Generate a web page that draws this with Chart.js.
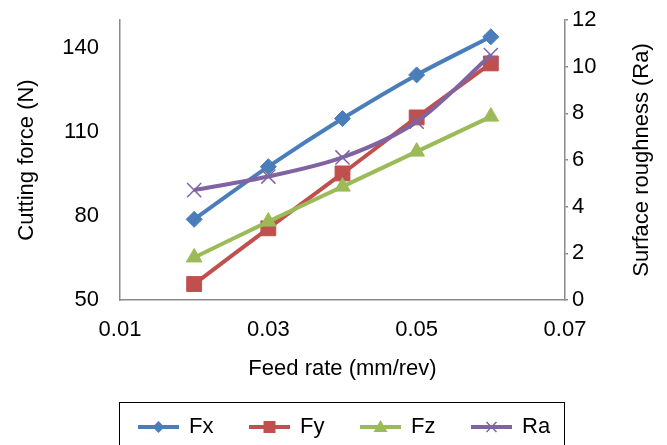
<!DOCTYPE html>
<html>
<head>
<meta charset="utf-8">
<script src="https://cdn.jsdelivr.net/npm/chart.js@4.4.0/dist/chart.umd.min.js"></script>
<style>
  html, body { margin: 0; padding: 0; background: #fff; }
  #wrap { width: 667px; height: 445px; position: relative; }
</style>
</head>
<body>
<div id="wrap"><canvas id="chart"></canvas></div>
<script>
// values
const feedRate = [0.02, 0.03, 0.04, 0.05, 0.06];
const fx = [78.8, 97.6, 114.8, 130.4, 144.0];
const fy = [55.7, 75.6, 95.2, 115.2, 134.5];
const fz = [65.2, 78.0, 90.5, 103.0, 115.5];
const ra = [4.71, 5.29, 6.11, 7.64, 10.5];

const xTicks = [0.01, 0.03, 0.05, 0.07];
const forceTicks = [50, 80, 110, 140];
const raTicks = [0, 2, 4, 6, 8, 10, 12];

const FONT = "'Liberation Sans', Arial, Helvetica, sans-serif";
const axisGray = '#8a8a8a';

function pts(ys) {
  return feedRate.map((x, i) => ({ x: x, y: ys[i] }));
}

function series(label, ys, color, style, radius, axis, order) {
  return {
    label: label,
    data: pts(ys),
    borderColor: color,
    backgroundColor: color,
    pointBackgroundColor: color,
    pointBorderColor: color,
    pointStyle: style,
    pointRadius: radius,
    pointHoverRadius: radius,
    pointBorderWidth: style === 'crossRot' ? 1.5 : 1,
    borderWidth: 4,
    tension: 0.3,
    yAxisID: axis,
    order: order,
  };
}

// fixed axis boxes so the plot sits where the reference has it
function fitY(width) {
  return (s) => {
    s.width = width;
    s.paddingTop = 0;
    s.paddingBottom = 0;
  };
}

// legend drawn by hand: line with marker in the middle, inside a framed box
// plus the right axis title, which reads bottom-to-top like the left one
const boxLegend = {
  id: 'boxLegend',
  afterDraw(chart) {
    const ctx = chart.ctx;
    const area = chart.chartArea;
    ctx.save();
    ctx.font = '22px ' + FONT;
    ctx.fillStyle = '#000';
    ctx.textAlign = 'center';
    ctx.textBaseline = 'middle';
    ctx.translate(642, (area.top + area.bottom) / 2);
    ctx.rotate(-Math.PI / 2);
    ctx.fillText('Surface roughness (Ra)', 0, 0);
    ctx.restore();

    ctx.save();
    ctx.strokeStyle = '#000';
    ctx.lineWidth = 1;
    ctx.strokeRect(area.left - 0.5, 402.5, area.right - area.left, 60);
    ctx.font = '22px ' + FONT;
    ctx.textBaseline = 'middle';
    ctx.fillStyle = '#000';
    const y = 427;
    let sx = area.left + 18;
    for (const ds of chart.data.datasets) {
      ctx.strokeStyle = ds.borderColor;
      ctx.lineWidth = 4;
      ctx.beginPath();
      ctx.moveTo(sx, y);
      ctx.lineTo(sx + 41, y);
      ctx.stroke();
      const cx = sx + 20.5;
      ctx.fillStyle = ds.borderColor;
      ctx.strokeStyle = ds.borderColor;
      ctx.lineWidth = 1.5;
      ctx.beginPath();
      if (ds.pointStyle === 'rectRot') {
        ctx.moveTo(cx, y - 6); ctx.lineTo(cx + 6, y); ctx.lineTo(cx, y + 6); ctx.lineTo(cx - 6, y);
        ctx.closePath(); ctx.fill();
      } else if (ds.pointStyle === 'rect') {
        ctx.rect(cx - 6, y - 6, 12, 12); ctx.fill();
      } else if (ds.pointStyle === 'triangle') {
        ctx.moveTo(cx, y - 7); ctx.lineTo(cx + 7, y + 5); ctx.lineTo(cx - 7, y + 5);
        ctx.closePath(); ctx.fill();
      } else {
        ctx.moveTo(cx - 5, y - 5); ctx.lineTo(cx + 5, y + 5);
        ctx.moveTo(cx + 5, y - 5); ctx.lineTo(cx - 5, y + 5);
        ctx.stroke();
      }
      ctx.fillStyle = '#000';
      ctx.textAlign = 'left';
      ctx.fillText(ds.label, sx + 51, y);
      sx += 111;
    }
    ctx.restore();
  }
};

const config = {
  type: 'line',
  data: {
    datasets: [
      series('Fx', fx, '#4a7ebb', 'rectRot', 8, 'y', 3),
      series('Fy', fy, '#c0504d', 'rect', 10.5, 'y', 2),
      series('Fz', fz, '#9bbb59', 'triangle', 9, 'y', 1),
      series('Ra', ra, '#8064a2', 'crossRot', 10, 'y2', 0),
    ]
  },
  options: {
    animation: false,
    responsive: true,
    maintainAspectRatio: false,
    layout: { padding: { top: 20, left: 0, right: 0, bottom: 0 } },
    plugins: {
      legend: { display: false },
      tooltip: { enabled: false },
    },
    scales: {
      x: {
        type: 'linear',
        min: 0.01,
        max: 0.07,
        afterBuildTicks: (s) => { s.ticks = xTicks.map(v => ({ value: v })); },
        afterFit: (s) => { s.height = 145; s.paddingLeft = 0; s.paddingRight = 0; },
        grid: { display: false, drawTicks: false },
        border: { display: true, color: axisGray, width: 1.5 },
        ticks: {
          padding: 17,
          color: '#000',
          font: { family: FONT, size: 22 },
          callback: (v) => v.toFixed(2),
        },
        title: {
          display: true,
          text: 'Feed rate (mm/rev)',
          color: '#000',
          font: { family: FONT, size: 22 },
          padding: { top: 0, bottom: 63 },
        },
      },
      y: {
        position: 'left',
        min: 50,
        max: 150,
        afterBuildTicks: (s) => { s.ticks = forceTicks.map(v => ({ value: v })); },
        afterFit: fitY(120),
        grid: { display: false, drawTicks: false },
        border: { display: true, color: axisGray, width: 1.5 },
        ticks: {
          padding: 21,
          color: '#000',
          font: { family: FONT, size: 22 },
        },
        title: {
          display: true,
          text: 'Cutting force (N)',
          color: '#000',
          font: { family: FONT, size: 22 },
          padding: { top: 14, bottom: 0 },
        },
      },
      y2: {
        position: 'right',
        min: 0,
        max: 12,
        afterBuildTicks: (s) => { s.ticks = raTicks.map(v => ({ value: v })); },
        afterFit: fitY(102),
        grid: { drawOnChartArea: false, drawTicks: true, tickLength: 3, color: axisGray, lineWidth: 1.5 },
        border: { display: true, color: axisGray, width: 1.5 },
        ticks: {
          padding: 4,
          color: '#000',
          font: { family: FONT, size: 22 },
        },
        title: { display: false },
      },
    },
  },
  plugins: [boxLegend],
};

new Chart(document.getElementById('chart'), config);
</script>
</body>
</html>
